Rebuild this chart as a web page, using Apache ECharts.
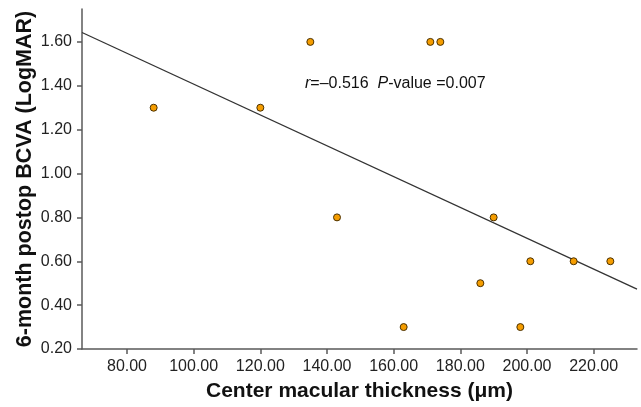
<!DOCTYPE html>
<html>
<head>
<meta charset="utf-8">
<script src="https://cdn.jsdelivr.net/npm/echarts@6/dist/echarts.min.js"></script>
<style>html,body{margin:0;padding:0;background:#fff}#c{width:641px;height:407px}</style>
</head>
<body>
<div id="c"></div>
<script>
const thickness = [88, 120, 135, 143, 163, 171, 174, 186, 190, 198, 201, 214, 225];
const bcva      = [1.30, 1.30, 1.60, 0.80, 0.30, 1.60, 1.60, 0.50, 0.80, 0.30, 0.60, 0.60, 0.60];
const fitX = [66.5, 233];
const fitY = [1.643, 0.473];
const xTicks = [80, 100, 120, 140, 160, 180, 200, 220];
const yTicks = [0.2, 0.4, 0.6, 0.8, 1.0, 1.2, 1.4, 1.6];
const annotation = ['r', '=\u20130.516  ', 'P', '-value =0.007'];

const points = thickness.map((x, i) => [x, bcva[i]]);
const fitLine = fitX.map((x, i) => [x, fitY[i]]);

const chart = echarts.init(document.getElementById('c'));
const axisColor = '#5a5a5a';
const font = 'Liberation Sans, Arial, sans-serif';
chart.setOption({
  animation: false,
  grid: { left: 82, right: 4, top: 9, bottom: 58, containLabel: false },
  xAxis: {
    type: 'value', min: fitX[0], max: fitX[1],
    name: 'Center macular thickness (\u03bcm)', nameLocation: 'middle', nameGap: 32,
    nameMoveOverlap: false,
    nameTextStyle: { fontFamily: font, fontSize: 21, fontWeight: 'bold', color: '#111' },
    axisLine: { lineStyle: { color: axisColor, width: 1.5 } },
    axisTick: { length: 5, lineStyle: { color: axisColor, width: 1.5 }, customValues: xTicks },
    axisLabel: { customValues: xTicks, margin: 10, fontFamily: font, fontSize: 16, color: '#222', formatter: v => v.toFixed(2) },
    splitLine: { show: false }
  },
  yAxis: {
    type: 'value', min: 0.2, max: 1.75,
    name: '6-month postop BCVA (LogMAR)', nameLocation: 'middle', nameGap: 46,
    nameMoveOverlap: false,
    nameTextStyle: { fontFamily: font, fontSize: 21.5, fontWeight: 'bold', color: '#111' },
    axisLine: { show: true, lineStyle: { color: axisColor, width: 1.5 } },
    axisTick: { show: true, length: 5, lineStyle: { color: axisColor, width: 1.5 }, customValues: yTicks },
    axisLabel: { customValues: yTicks, margin: 10, fontFamily: font, fontSize: 16, color: '#222', formatter: v => v.toFixed(2) },
    splitLine: { show: false }
  },
  series: [
    {
      type: 'line', data: fitLine, symbol: 'none', silent: true,
      lineStyle: { color: '#333', width: 1.3 }, z: 1
    },
    {
      type: 'scatter', data: points, symbolSize: 7,
      itemStyle: { color: '#f59d00', borderColor: '#4a3000', borderWidth: 1, opacity: 1 }, z: 3
    }
  ],
  graphic: [{
    type: 'text', left: 305, top: 76,
    style: {
      text: '{i|' + annotation[0] + '}{n|' + annotation[1] + '}{i|' + annotation[2] + '}{n|' + annotation[3] + '}',
      rich: {
        i: { fontFamily: font, fontSize: 16, fontStyle: 'italic', fill: '#111' },
        n: { fontFamily: font, fontSize: 16, fill: '#111' }
      }
    }
  }]
});
</script>
</body>
</html>
